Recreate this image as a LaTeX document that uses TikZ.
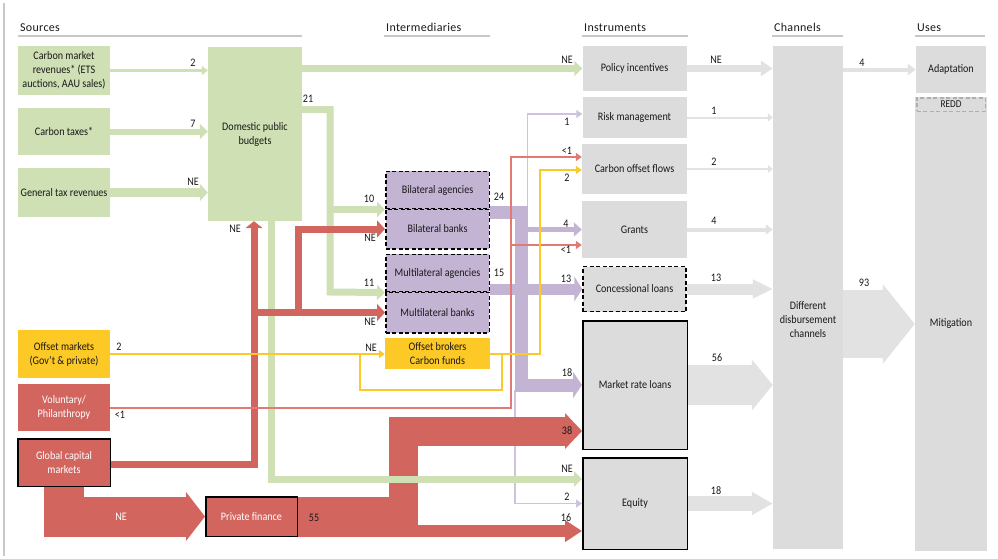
\documentclass[tikz,border=0pt]{standalone}
\usepackage{fontspec}
\setmainfont{Carlito}[FakeStretch=0.88]
\newfontfamily\headfont{Carlito}[LetterSpace=2.5]
\usetikzlibrary{arrows.meta,positioning}

\definecolor{cgreen}{RGB}{207,224,180}
\definecolor{cred}{RGB}{211,101,95}
\definecolor{credthin}{RGB}{226,122,116}
\definecolor{cyellow}{RGB}{253,201,38}
\definecolor{cpurple}{RGB}{195,180,212}
\definecolor{cpurthin}{RGB}{206,194,222}
\definecolor{cgray}{RGB}{220,220,220}
\definecolor{cgrayarr}{RGB}{226,226,226}
\definecolor{cbar}{RGB}{200,200,200}
\definecolor{creddline}{RGB}{175,175,175}

\tikzset{
  box/.style={inner sep=1pt, align=center, font=\fontsize{11.5}{14}\selectfont, text=black!90},
  sz/.style 2 args={minimum width=#1pt, minimum height=#2pt},
  gbox/.style={box, fill=cgreen},
  ybox/.style={box, fill=cyellow},
  rbox/.style={box, fill=cred, text=white},
  pbox/.style={box, fill=cpurple, draw=black, dash pattern=on 4pt off 2.5pt, line width=1.5},
  ibox/.style={box, fill=cgray},
  head/.style={inner sep=1pt, font=\headfont\fontsize{12}{13}\selectfont, text=black!90},
  lbl/.style={inner sep=0pt, font=\fontsize{11.5}{13}\selectfont, text=black!90},
  flow/.style={line join=miter, line cap=butt},
  fg/.style={flow, draw=cgreen},
  fr/.style={flow, draw=cred},
  frt/.style={flow, draw=credthin, line width=2},
  fy/.style={flow, draw=cyellow, line width=2},
  fp/.style={flow, draw=cpurple},
  fpt/.style={flow, draw=cpurthin, line width=1.6},
  fgr/.style={flow, draw=cgrayarr},
  arr/.style 2 args={-{Triangle[length=#1pt, width=#2pt]}},
}

\begin{document}
\begin{tikzpicture}[x=1pt,y=-1pt]
\useasboundingbox (0,0) rectangle (998,558);
\draw[cbar, line width=1.5] (4,3) -- (4,556);

% column heads
\foreach \t/\xa/\xb in {Sources/18/302, Intermediaries/384/490, Instruments/582/688, Channels/772/843, Uses/915/985}{
  \node[head, anchor=south west] (h\t) at (\xa+1,33) {\t};
  \draw[cbar, line width=2.5] (\xa,36) -- (\xb,36);
}

% sources
\node[gbox, sz={92}{49}] (cmr) at (64,70.5) {Carbon market\\revenues* (ETS\\auctions, AAU sales)};
\node[gbox, sz={92}{47}] (ctax) at (64,131.5) {Carbon taxes*};
\node[gbox, sz={92}{49}] (gtr) at (64,192.5) {General tax revenues};
\node[gbox, sz={94}{174}] (dpb) at (255,134) {Domestic public\\budgets};
\node[ybox, sz={92}{48}] (ofm) at (64,354) {Offset markets\\(Gov't \& private)};
\node[rbox, sz={92}{47}] (vol) at (64,407.5) {Voluntary/\\Philanthropy};
\node[rbox, draw=black, line width=1.5, sz={92.5}{47.5}] (gcm) at (64,462.5) {Global capital\\markets};
\node[rbox, draw=black, line width=1.5, sz={91.5}{39.5}] (pfin) at (251.5,516.5) {Private finance};

% intermediaries
\node[pbox, sz={103.5}{37.5}] (bag) at (437.5,190) {Bilateral agencies};
\node[pbox, sz={103.5}{39.5}] (bbk) at (437.5,229) {Bilateral banks};
\node[pbox, sz={103.5}{37.5}] (mag) at (437.5,273) {Multilateral agencies};
\node[pbox, sz={103.5}{40.5}] (mbk) at (437.5,312.5) {Multilateral banks};
\node[ybox, sz={105}{31}] (obr) at (437.5,353.5) {Offset brokers\\Carbon funds};

% instruments
\node[ibox, sz={104}{45}] (pol) at (634.5,68.5) {Policy incentives};
\node[ibox, sz={104}{41}] (rsk) at (634.5,117.5) {Risk management};
\node[ibox, sz={105}{50}] (cof) at (634.5,169) {Carbon offset flows};
\node[ibox, sz={105}{57}] (grt) at (634.5,229.5) {Grants};
\node[ibox, draw=black, dash pattern=on 4pt off 2.5pt, line width=1.5, sz={103}{45}] (con) at (634.5,289) {Concessional loans};
\node[ibox, draw=black, line width=1.5, sz={104.5}{128.5}] (mrl) at (635,385) {Market rate loans};
\node[ibox, draw=black, line width=1.5, sz={104.5}{91.5}] (eqt) at (635,503.5) {Equity};

% channels and uses
\node[ibox, sz={70}{503}] (chn) at (808,297.5) {};
\node[box] (chntxt) at (808,320) {Different\\disbursement\\channels};
\node[ibox, sz={70}{47}] (ada) at (951,69.5) {Adaptation};
\node[ibox, sz={72}{454}] (mit) at (951,324) {Mitigation};
\node[ibox, draw=creddline, dash pattern=on 4pt off 2.5pt, line width=1.5, sz={68.5}{13.5}, font=\fontsize{10.5}{11}\selectfont] (redd) at (951,104.5) {REDD};

% flows
\draw[fpt, arr={6}{8}] (515,390) |- (eqt.west);
\draw[fr, line width=29, arr={17}{35}] (pfin.east |- 0,511) -| (403.5,431) -- (mrl.west |- 0,431);
\draw[fr, line width=12, arr={17}{21}] (pfin.east |- 0,531) -- (eqt.west |- 0,531);
\draw[fr, line width=40, arr={19}{48}] (gcm.south) |- (pfin.west);

\draw[fg, line width=3, arr={6}{9}] (cmr.east) -- (cmr.east -| dpb.west);
\draw[fg, line width=6, arr={8}{15}] (ctax.east) -- (ctax.east -| dpb.west);
\draw[fg, line width=9, arr={8}{17}] (gtr.east) -- (gtr.east -| dpb.west);
\draw[fg, line width=7, arr={8}{15}] (dpb.east |- pol) -- (pol.west);
\draw[fg, line width=7, arr={8}{15}] (dpb.east |- 0,109.5) -| (330,292) -- (mag.south west);
\draw[fg, line width=7, arr={8}{15}] (bag.south west -| 330,0) -- (bag.south west);
\draw[fg, line width=7, arr={8}{15}] (dpb.south -| 271,0) |- (eqt.west |- 0,479);

\draw[fr, line width=7, arr={7}{17}] (gcm.east |- 0,464.5) -| (dpb.south -| 254,0);
\draw[fr, line width=7, arr={8}{17}] (mbk.west -| 254,0) -- (mbk.west);
\draw[fr, line width=7, arr={8}{17}] (mbk.west -| 298,0) |- (bbk.west);

\draw[fp, line width=13, arr={9}{26}] (bag.east |- 0,212) -| (521.5,385) -- (mrl.west);
\draw[fp, line width=5, arr={8}{14}] (grt.west -| 521.5,0) -- (grt.west);
\draw[fp, line width=11, arr={8}{25}] (mag.east |- con.west) -- (con.west);
\draw[fpt, arr={6}{8}] (527.5,206) |- (rsk.west |- 0,114);

\draw[frt, arr={6}{8}] (vol.east) -| (511,157) -- (cof.west |- 0,157);
\draw[frt, arr={6}{8}] (511,245) -- (grt.west |- 0,245);
\draw[fy, arr={6}{8}] (ofm.east) -- (ofm.east -| obr.west);
\draw[fy] (360,354) |- (502,390) -- (502,354);
\draw[fy, arr={6}{8}] (obr.east |- 0,354) -| (540,170) -- (cof.west |- 0,170);

\draw[fgr, line width=7, arr={12}{15}] (pol.east) -- (pol.east -| chn.west);
\draw[fgr, line width=2, arr={5}{8}] (rsk.east) -- (rsk.east -| chn.west);
\draw[fgr, line width=2, arr={5}{8}] (cof.east) -- (cof.east -| chn.west);
\draw[fgr, line width=4, arr={7}{10}] (grt.east) -- (grt.east -| chn.west);
\draw[fgr, line width=11, arr={20}{18}] (con.east) -- (con.east -| chn.west);
\draw[fgr, line width=40, arr={21}{50}] (mrl.east) -- (mrl.east -| chn.west);
\draw[fgr, line width=15, arr={21}{22}] (eqt.east) -- (eqt.east -| chn.west);
\draw[fgr, line width=4, arr={8}{11}] (chn.east |- ada) -- (ada.west);
\draw[fgr, line width=68, arr={32}{78}] (chn.east |- mit) -- (mit.west);

% flow values
\foreach \n/\x/\y/\t in {a/193/63/2, b/193/124/7, c/193/182/NE, d/308/99/21, e/235/229/NE,
  f/369/199/10, g/370/238/NE, h/369/283/11, i/370/322/NE, j/371/348/NE,
  k/499/197/24, l/499/273/15, m/119/347/2, n/120/415/<1, o/314/518/55,
  p/567/60/NE, q/567/122/1, r/567/151/<1, s/567/178/2, t/566/224/4, u/566/250/<1,
  v/566/279/13, w/567/373/18, x/567/431/38, y/567/469/NE, z/567/497/2, aa/566/518/16,
  ab/716/60/NE, ac/714/111/1, ad/714/162/2, ae/714/221/4, af/716/278/13, ag/717/358/56,
  ah/716/491/18, ai/862/63/4, aj/864/283/93}
  \node[lbl] (v\n) at (\x,\y) {\t};
\node[lbl, text=white] (vgp) at (121,517) {NE};
\end{tikzpicture}
\end{document}
